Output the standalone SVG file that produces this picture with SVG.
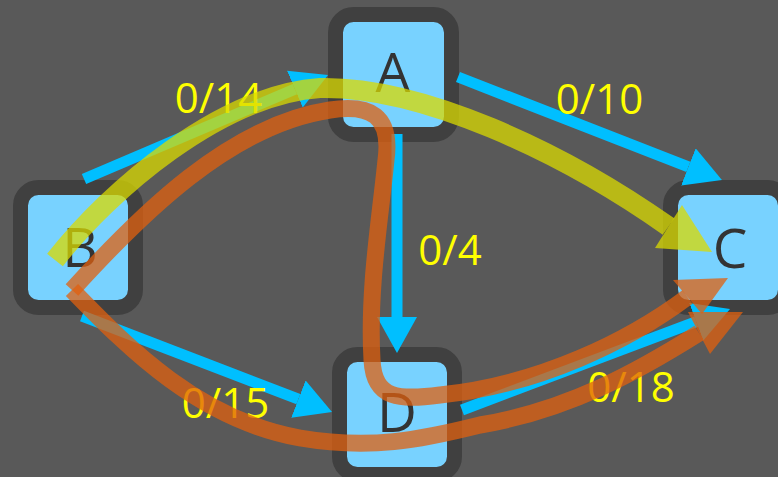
<svg xmlns="http://www.w3.org/2000/svg" width="778" height="477" viewBox="0 0 778 477">
  <style>
    .node rect { fill: #78D2FF; stroke: #404040; stroke-width: 15; }
    .node text { font-family: "Open Sans", "Noto Sans", sans-serif; font-size: 55px; fill: #333333; text-anchor: middle; }
    .cap { font-family: "Open Sans", "Noto Sans", sans-serif; font-size: 42px; fill: #FFFF00; text-anchor: middle; }
    .edge { stroke: #00BFFF; stroke-width: 11; fill: none; marker-end: url(#ah); }
    .flowY { stroke: #D9D900; stroke-opacity: 0.75; stroke-width: 20; fill: none; }
    .headY { fill: #D9D900; fill-opacity: 0.75; }
    .flowO { stroke: #E0600F; stroke-opacity: 0.75; stroke-width: 17; fill: none; }
    .headO { fill: #E0600F; fill-opacity: 0.75; }
  </style>
  <defs>
    <marker id="ah" markerUnits="userSpaceOnUse" viewBox="0 -20 36 40" markerWidth="36" markerHeight="40" refX="0" refY="0" orient="auto">
      <path d="M0,-20 L36,0 L0,20 z" fill="#00BFFF"/>
    </marker>
  </defs>

  <rect x="0" y="0" width="778" height="477" fill="#595959"/>

  <!-- nodes -->
  <g id="node-A" class="node">
    <rect x="335.5" y="14.5" width="116" height="120" rx="18"/>
    <text x="393" y="92">A</text>
  </g>
  <g id="node-B" class="node">
    <rect x="20.5" y="187.5" width="115" height="120" rx="18"/>
    <text x="80" y="267">B</text>
  </g>
  <g id="node-C" class="node">
    <rect x="670.5" y="187.5" width="115" height="120" rx="18"/>
    <text x="730" y="268">C</text>
  </g>
  <g id="node-D" class="node">
    <rect x="339.5" y="354.5" width="115" height="120" rx="18"/>
    <text x="397" y="432">D</text>
  </g>

  <!-- capacity edges -->
  <g id="edges">
    <line class="edge" x1="84" y1="179" x2="294.9" y2="89.1"/>
    <line class="edge" x1="458" y1="77" x2="688.4" y2="166.9"/>
    <line class="edge" x1="397" y1="134" x2="397" y2="317"/>
    <line class="edge" x1="82" y1="316" x2="298.4" y2="399.1"/>
    <line class="edge" x1="462" y1="410" x2="696.3" y2="321.7"/>
  </g>

  <!-- flow / capacity labels -->
  <g id="labels">
    <text class="cap" x="218.5" y="113">0/14</text>
    <text class="cap" x="599.5" y="114">0/10</text>
    <text class="cap" x="450" y="265">0/4</text>
    <text class="cap" x="225.5" y="418">0/15</text>
    <text class="cap" x="631" y="402">0/18</text>
  </g>

  <!-- augmenting paths -->
  <g id="path-BAC">
    <path class="flowY" d="M55 260 C110 190, 220 95, 320 88 C420 86, 560 150, 668.5 226.5"/>
    <polygon class="headY" points="682,205 655,248 712,252"/>
  </g>
  <g id="path-BADC">
    <path class="flowO" d="M72 290 C140 215, 230 125, 330 110 C370 104, 392 115, 386 160 C380 220, 368 290, 372 360 C374 400, 400 400, 440 395 C540 385, 630 340, 687.5 297"/>
    <polygon class="headO" points="673,280 728,278 702,314"/>
  </g>
  <g id="path-BDC">
    <path class="flowO" d="M72 290 C130 350, 200 420, 300 438 C370 450, 420 440, 480 425 C570 410, 640 370, 699 333"/>
    <polygon class="headO" points="688,312 743,312 710,354"/>
  </g>
</svg>
